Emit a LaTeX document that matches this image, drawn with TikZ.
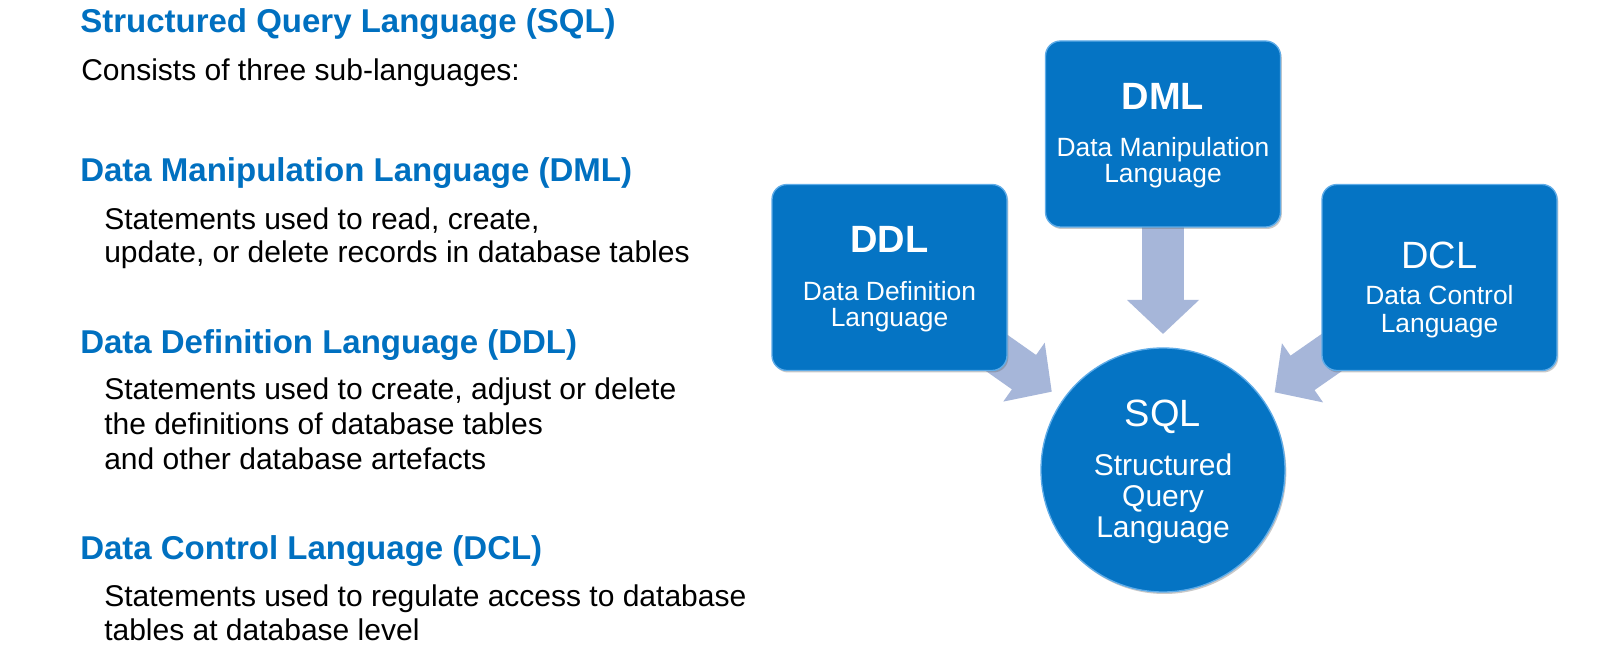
\documentclass[tikz,border=0pt]{standalone}
\usepackage{fontspec}
\setmainfont{Liberation Sans}
\usetikzlibrary{arrows.meta,shadows,backgrounds}

\definecolor{headblue}{RGB}{0,112,192}
\definecolor{boxblue}{RGB}{5,116,196}
\definecolor{boxedge}{RGB}{95,172,232}
\definecolor{arrowblue}{RGB}{166,182,217}

\tikzset{
  x=0.75pt, y=-0.75pt,
  heading/.style={anchor=base west, inner sep=0pt, text=headblue, font={\fontsize{24.75pt}{28pt}\selectfont\bfseries}},
  bodytext/.style={anchor=base west, inner sep=0pt, font={\fontsize{22.5pt}{26pt}\selectfont}},
  langbox/.style={draw=boxedge, line width=1pt, fill=boxblue, rounded corners=11.25pt,
    minimum width=176.25pt, minimum height=139.5pt, outer sep=0pt,
    drop shadow={shadow xshift=1pt, shadow yshift=-1.5pt, opacity=0.35, fill=black!60}},
  sqlcircle/.style={circle, draw=boxedge, line width=1pt, fill=boxblue, minimum size=183pt,
    inner sep=0pt, outer sep=0pt,
    drop shadow={shadow xshift=1pt, shadow yshift=-1.5pt, opacity=0.35, fill=black!60}},
  abbr/.style={anchor=base, inner sep=0pt, text=white, font={\fontsize{28.5pt}{30pt}\selectfont}},
  boxname/.style={anchor=base, inner sep=0pt, text=white, font={\fontsize{19.8pt}{22pt}\selectfont}},
  circname/.style={anchor=base, inner sep=0pt, text=white, font={\fontsize{22.5pt}{26pt}\selectfont}},
  bigarrow/.style={draw=arrowblue, line width=31.5pt, -{Triangle[width=52.5pt,length=25.5pt]}, shorten >=10.5pt}
}

\begin{document}
\begin{tikzpicture}
    \useasboundingbox (0,0) rectangle (1600,655);

    % left column
    \node[heading]  (h-sql)   at (80,  33)  {Structured Query Language (SQL)};
    \node[bodytext] (t-sql)   at (81,  81)  {Consists of three sub-languages:};

    \node[heading]  (h-dml)   at (80, 182)  {Data Manipulation Language (DML)};
    \node[bodytext] (t-dml-1) at (104, 230) {Statements used to read, create,};
    \node[bodytext] (t-dml-2) at (104, 263) {update, or delete records in database tables};

    \node[heading]  (h-ddl)   at (80, 354)  {Data Definition Language (DDL)};
    \node[bodytext] (t-ddl-1) at (104, 400) {Statements used to create, adjust or delete};
    \node[bodytext] (t-ddl-2) at (104, 435) {the definitions of database tables};
    \node[bodytext] (t-ddl-3) at (104, 470) {and other database artefacts};

    \node[heading]  (h-dcl)   at (80, 560)  {Data Control Language (DCL)};
    \node[bodytext] (t-dcl-1) at (104, 607) {Statements used to regulate access to database};
    \node[bodytext] (t-dcl-2) at (104, 641) {tables at database level};

    % diagram
    \node[langbox]   (ddl) at (889.5, 277.5) {};
    \node[langbox]   (dml) at (1163,  134)   {};
    \node[langbox]   (dcl) at (1439.5, 277.5) {};
    \node[sqlcircle] (sql) at (1163,  470)   {};

    \node[abbr, font={\fontsize{28.5pt}{30pt}\selectfont\bfseries}] (ddl-abbr) at (889.5, 253) {DDL};
    \node[boxname] (ddl-name-1) at (889.5, 301) {Data Definition};
    \node[boxname] (ddl-name-2) at (889.5, 327) {Language};

    \node[abbr, font={\fontsize{28.5pt}{30pt}\selectfont\bfseries}] (dml-abbr) at (1163, 110) {DML};
    \node[boxname] (dml-name-1) at (1163, 157) {Data Manipulation};
    \node[boxname] (dml-name-2) at (1163, 183) {Language};

    \node[abbr]    (dcl-abbr)   at (1439.5, 269) {DCL};
    \node[boxname] (dcl-name-1) at (1439.5, 305) {Data Control};
    \node[boxname] (dcl-name-2) at (1439.5, 333) {Language};

    \node[abbr]     (sql-abbr)   at (1163, 427) {SQL};
    \node[circname] (sql-name-1) at (1163, 476) {Structured};
    \node[circname] (sql-name-2) at (1163, 507) {Query};
    \node[circname] (sql-name-3) at (1163, 538) {Language};

    \begin{scope}[on background layer]
        \fill[white] (0,0) rectangle (1600,655);
        \draw[bigarrow] (dml.center) -- (sql);
        \draw[bigarrow] (ddl.center) -- (sql);
        \draw[bigarrow] (dcl.center) -- (sql);
    \end{scope}
\end{tikzpicture}
\end{document}
